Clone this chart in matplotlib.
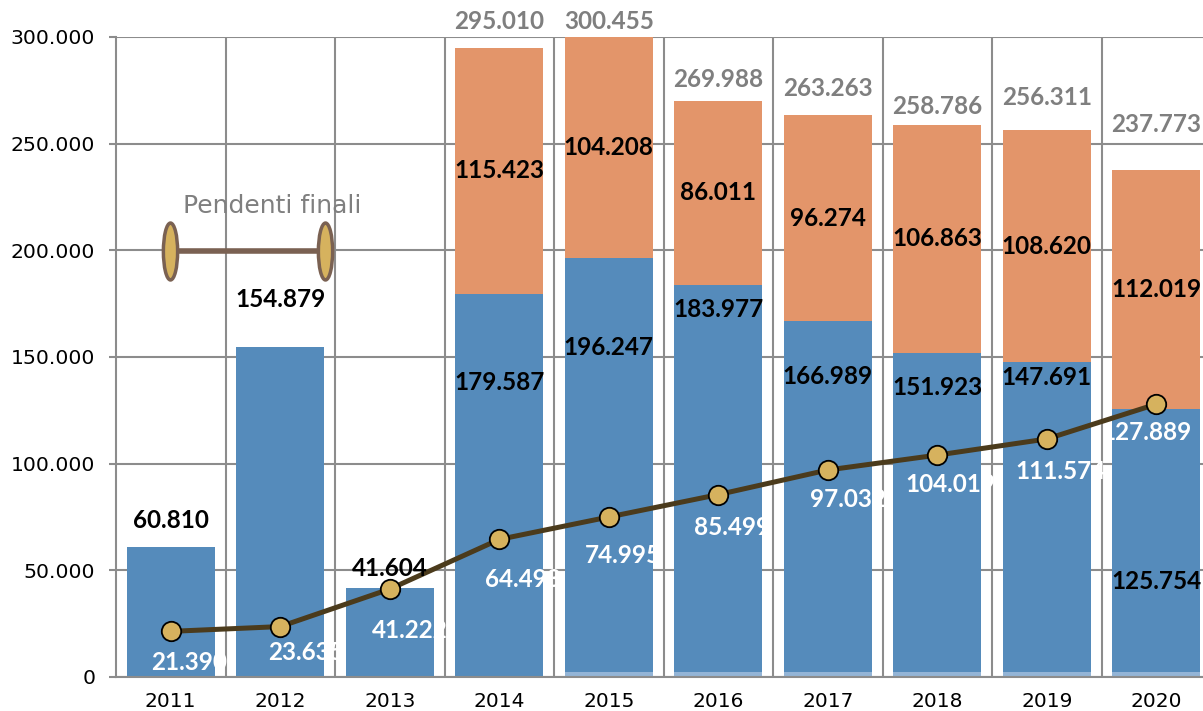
import matplotlib as mpl
import matplotlib.pyplot as plt
from matplotlib.path import Path
from matplotlib.transforms import Affine2D
from matplotlib.ticker import FuncFormatter, MultipleLocator


years = ['2011', '2012', '2013', '2014', '2015', '2016', '2017', '2018', '2019', '2020']
blue_vals = [60810, 154879, 41604, 179587, 196247, 183977, 166989, 151923, 147691, 125754]
orange_vals = [0, 0, 0, 115423, 104208, 86011, 96274, 106863, 108620, 112019]
base_vals = [0, 0, 0, 0, 2300, 2300, 2300, 2300, 2300, 2300]
line_vals = [21390, 23635, 41222, 64493, 74995, 85499, 97032, 104019, 111574, 127889]

# hand placed label positions (data units), as in the original sheet
blue_label_y = [73200, 177000, 50700, 138000, 154500, 172300, 140850, 135700, 140400, 44600]
total_label_y = [0, 0, 0, 307200, 307200, 280000, 275800, 267400, 271600, 258900]
# offsets of the white line labels, in pixels
line_label_off = [(18, -31), (26, -26), (20, -41), (24, -40), (14, -38),
                  (14, -33), (20, -30), (13, -29), (14, -33), (-10, -28)]

BLUE = '#558BBB'
ORANGE = '#E3956A'
LIGHT = '#93B4D6'
LINE = '#4B3B1C'
GOLD = '#D6B25E'
GRID = '#8C8C8C'
GRAY_TXT = '#7F7F7F'

NUM_FONT = ['Lato', 'DejaVu Sans']
TICK_FONT = ['DejaVu Sans']
NUM_SIZE = 17.5


def fmt(v):
    return '{:,}'.format(int(v)).replace(',', '.')


def _plot_init():
    fig = plt.figure(figsize=(12.03, 7.11), dpi=100)
    ax = fig.add_axes([116 / 1203, 34 / 711, 1095 / 1203, 640 / 711])
    return fig, ax


fig, ax = _plot_init()
x = list(range(len(years)))

ax.bar(x, blue_vals, width=0.8, color=BLUE, zorder=2)
ax.bar(x, orange_vals, width=0.8, bottom=blue_vals, color=ORANGE, zorder=2)
ax.bar(x, base_vals, width=0.8, color=LIGHT, zorder=2)

ax.plot(x, line_vals, color=LINE, lw=3.6, marker='o', ms=14,
        mfc=GOLD, mec='black', mew=1.3, zorder=4)

# labels
for i in x:
    total = blue_vals[i] + orange_vals[i]
    if orange_vals[i]:
        ax.text(i, total_label_y[i], fmt(total), ha='center', va='center',
                fontsize=NUM_SIZE, fontweight='bold', color=GRAY_TXT,
                family=NUM_FONT, zorder=5, clip_on=False)
        ax.text(i, blue_vals[i] + orange_vals[i] / 2, fmt(orange_vals[i]),
                ha='center', va='center', fontsize=NUM_SIZE, fontweight='bold',
                color='black', family=NUM_FONT, zorder=5)
    ax.text(i, blue_label_y[i], fmt(blue_vals[i]), ha='center', va='center',
            fontsize=NUM_SIZE, fontweight='bold', color='black', family=NUM_FONT, zorder=5)
    ax.annotate(fmt(line_vals[i]), (i, line_vals[i]), xytext=line_label_off[i],
                textcoords='offset pixels', ha='center', va='center',
                fontsize=NUM_SIZE, fontweight='bold', color='white',
                family=NUM_FONT, zorder=5)

# "Pendenti finali" key
ell = Path.unit_circle().transformed(Affine2D().scale(0.25, 1.0))
ax.plot([0.049, 0.191], [0.665, 0.665], transform=ax.transAxes, color='#7A6152',
        lw=4, marker=ell, ms=41, mfc=GOLD, mec='#7A6152', mew=2.5,
        clip_on=False, zorder=5)
ax.text(0.143, 0.736, 'Pendenti finali', transform=ax.transAxes, ha='center',
        va='center', fontsize=18, color=GRAY_TXT, family=TICK_FONT, zorder=5)

# axes
ax.set_xlim(-0.5, len(years) - 0.5)
ax.set_ylim(0, 300000)
ax.yaxis.set_major_locator(MultipleLocator(50000))
ax.yaxis.set_major_formatter(FuncFormatter(lambda v, p: fmt(v)))
ax.set_xticks(x)
ax.set_xticklabels(years)
ax.set_xticks([i + 0.5 for i in x[:-1]], minor=True)
ax.grid(axis='y', color=GRID, lw=1.5, zorder=0)
ax.grid(axis='x', which='minor', color=GRID, lw=1.5, zorder=0)
ax.tick_params(axis='y', length=5, width=1.5, color=GRID, labelsize=14.7, pad=10)
ax.tick_params(axis='x', length=0, labelsize=14.5, pad=11)
ax.tick_params(axis='x', which='minor', length=0)
for lbl in ax.get_xticklabels() + ax.get_yticklabels():
    lbl.set_family(TICK_FONT)
for s in ['top', 'right']:
    ax.spines[s].set_visible(False)
for s in ['left', 'bottom']:
    ax.spines[s].set_color(GRID)
    ax.spines[s].set_linewidth(1.5)

fig.savefig('out.png', dpi=100)
